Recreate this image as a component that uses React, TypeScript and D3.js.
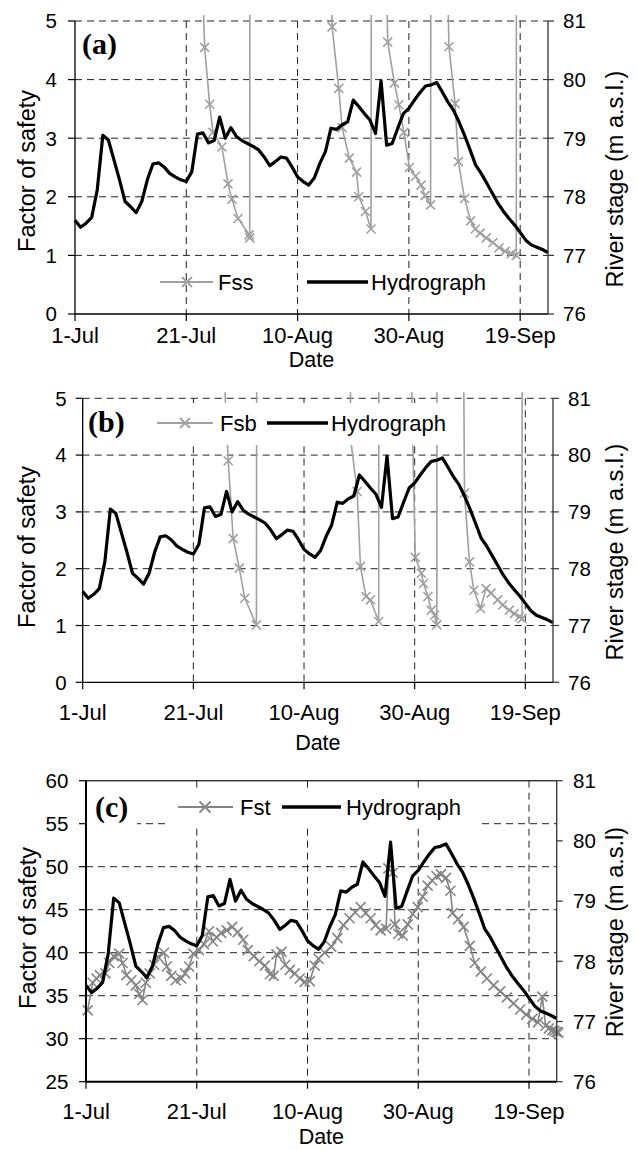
import React from 'react';
import * as d3 from 'd3';

const DAY = 86400000;
const START = Date.UTC(2009, 6, 1);
const LAST_DAY = 85;
const tickDays = [0, 20, 40, 60, 80];

// daily river stage from 1-Jul (m a.s.l.)
const hydroStage = [
  77.6, 77.48, 77.55, 77.65, 78.12, 79.05, 78.97, 78.63, 78.29, 77.92,
  77.83, 77.73, 77.92, 78.29, 78.56, 78.58, 78.51, 78.4, 78.34, 78.29,
  78.26, 78.43, 79.07, 79.09, 78.92, 78.96, 79.36, 79.0, 79.18, 79.03,
  78.96, 78.91, 78.86, 78.8, 78.68, 78.53, 78.6, 78.68, 78.66, 78.51,
  78.34, 78.26, 78.2, 78.32, 78.57, 78.77, 79.17, 79.15, 79.23, 79.28,
  79.65, 79.54, 79.42, 79.31, 79.08, 79.98, 78.88, 78.91, 79.17, 79.42,
  79.51, 79.65, 79.78, 79.89, 79.91, 79.95, 79.79, 79.62, 79.48, 79.28,
  79.05, 78.8, 78.54, 78.4, 78.23, 78.06, 77.89, 77.75, 77.63, 77.52,
  77.39, 77.26, 77.18, 77.14, 77.1, 77.05,
];

// Fss (values above 5 run off the top of the chart)
const fssDay = [
  22.8, 23.3, 24.2, 24.8, 26.4, 27.5, 28.2, 29.3, 31.3, 31.4, 31.45,
  45.9, 46.2, 47.4, 48.0, 49.3, 50.6, 51.0, 52.2, 53.2, 53.3,
  55.9, 56.2, 57.4, 58.2, 59.1, 60.1, 61.2, 62.2, 62.9, 63.9, 64.0,
  66.9, 67.2, 68.3, 68.9, 70.0, 71.1, 71.9, 72.8, 73.9, 75.1, 76.2, 77.3, 78.4, 79.3, 79.35,
];
const fssVal = [
  6, 4.55, 3.58, 3.1, 2.85, 2.22, 1.96, 1.63, 1.35, 1.3, 12,
  6, 4.9, 3.85, 3.18, 2.66, 2.42, 2.0, 1.75, 1.45, 12,
  6, 4.64, 3.94, 3.57, 3.1, 2.5, 2.35, 2.2, 2.02, 1.86, 12,
  6, 4.56, 3.59, 2.6, 1.97, 1.59, 1.45, 1.38, 1.3, 1.22, 1.13, 1.07, 1.03, 1.0, 12,
];

// Fsb
const fsbDay = [
  25.3, 26.3, 27.2, 28.3, 29.3, 31.4, 31.5,
  48.35, 48.4, 49.6, 50.2, 51.2, 52.0, 53.5, 53.55,
  59.3, 60.1, 61.2, 61.6, 62.4, 63.0, 63.6, 64.0, 64.05,
  68.45, 69.0, 69.9, 70.7, 71.9, 72.9, 73.8, 75.0, 75.9, 77.1, 78.0, 78.9, 79.4, 79.45,
];
const fsbVal = [
  6, 3.9, 2.53, 2.01, 1.48, 1.01, 12,
  12, 4.3, 3.36, 2.04, 1.51, 1.45, 1.07, 12,
  6, 2.2, 1.92, 1.74, 1.51, 1.27, 1.18, 1.01, 12,
  12, 3.33, 2.12, 1.62, 1.3, 1.65, 1.57, 1.45, 1.36, 1.27, 1.21, 1.15, 1.12, 12,
];

// Fst
const fstDay = [
  0.3, 1.2, 1.9, 2.5, 3.5, 4.2, 5.0, 6.0, 6.6, 7.3, 8.2, 9.0, 9.6, 10.2, 10.8,
  11.5, 12.3, 13.0, 14.1, 14.6, 15.4, 16.2, 17.2, 17.9, 18.6, 19.4, 20.4, 21.3,
  22.2, 22.9, 23.6, 24.4, 25.4, 26.4, 27.4, 28.4, 29.2, 30.3, 31.3, 32.3, 33.2,
  33.9, 34.4, 35.3, 36.0, 36.8, 37.7, 38.6, 39.5, 40.4, 41.3, 42.0, 43.1, 44.3,
  45.4, 46.5, 47.6, 48.6, 49.6, 50.5, 51.4, 52.3, 53.2, 54.2, 54.6, 55.4, 55.8,
  56.4, 57.2, 58.1, 59.0, 59.9, 60.8, 61.7, 62.5, 63.3, 64.1, 65.0, 65.8, 66.2,
  67.2, 68.2, 69.3, 70.2, 71.3, 72.4, 73.6, 74.8, 76.0, 77.2, 78.4, 79.5, 80.6,
  81.6, 82.4, 83.0, 83.6, 84.2, 84.6, 85.0, 85.3,
];
const fstVal = [
  33.3, 36.5, 37.0, 37.4, 37.6, 38.8, 39.6, 39.9, 38.8, 37.4, 36.8, 36.2, 35.2, 34.5, 36.5,
  37.6, 38.6, 39.5, 40.0, 38.4, 37.3, 36.8, 37.0, 37.6, 38.4, 39.9, 40.3, 41.0,
  42.5, 41.3, 41.8, 42.3, 42.6, 43.0, 42.4, 41.5, 40.3, 39.6, 39.0, 38.5, 37.5,
  37.3, 39.8, 40.1, 38.6, 38.0, 37.6, 37.0, 36.6, 36.7, 38.5, 39.3, 40.0, 40.7,
  41.7, 43.2, 44.0, 44.7, 45.3, 44.6, 44.0, 43.2, 42.6, 42.8, 49.8, 49.3, 43.3,
  42.2, 42.0, 43.3, 44.5, 45.3, 46.5, 47.8, 48.4, 48.9, 49.1, 48.7, 47.2, 44.6,
  43.9, 43.0, 40.8, 38.8, 37.8, 37.0, 36.2, 35.5, 34.8, 34.1, 33.4, 32.8, 32.3,
  31.9, 34.9, 31.5, 31.2, 31.0, 30.9, 30.8, 30.7,
];

const ticksAB = [0, 1, 2, 3, 4, 5];
const ticksC = [25, 30, 35, 40, 45, 50, 55, 60];
const stageTicks = [76, 77, 78, 79, 80, 81];

const SANS = 'Liberation Sans, Arial, sans-serif';
const SERIF = 'Liberation Serif, Times New Roman, serif';
const fmt = d3.utcFormat('%-d-%b');
const toDate = (d: number) => new Date(START + d * DAY);

const xMark = (s: number) => `M${-s},${-s}L${s},${s}M${-s},${s}L${s},${-s}`;

function Panel(p: any) {
  const { left, right, top, bottom } = p.box;
  const x = d3.scaleUtc().domain([toDate(0), toDate(LAST_DAY)]).range([left, right]);
  const y = d3.scaleLinear().domain(p.yDomain).range([bottom, top]);
  const y2 = d3.scaleLinear().domain([76, 81]).range([bottom, top]);
  const hydro = d3.line<number>().x((_, i) => x(toDate(i))).y((v) => y2(v))(hydroStage) || '';
  const fsPath = d3.line<number>().x((_, i) => x(toDate(p.days[i]))).y((v) => y(v))(p.vals) || '';
  const clipId = 'clip-' + p.id;
  const yMax = p.yDomain[1];
  const lg = p.legend;
  const dash = '7,5';

  return (
    <g>
      <defs>
        <clipPath id={clipId}>
          <rect x={left} y={top - 6} width={right - left} height={bottom - top + 6} />
        </clipPath>
      </defs>
      {/* grid */}
      {p.yTicks.slice(1).map((t: number) => (
        <line key={'h' + t} x1={left} x2={right} y1={y(t)} y2={y(t)} stroke="#222" strokeWidth={1}
          strokeDasharray={t === yMax && p.topSolid ? undefined : dash} />
      ))}
      {tickDays.slice(1).map((d) => (
        <line key={'v' + d} x1={x(toDate(d))} x2={x(toDate(d))} y1={top} y2={bottom} stroke="#222"
          strokeWidth={1} strokeDasharray={dash} />
      ))}
      {/* safety factor series */}
      <g clipPath={p.clip ? `url(#${clipId})` : undefined}>
        <path d={fsPath} fill="none" stroke={p.color} strokeWidth={1.6} />
        {p.vals.map((v: number, i: number) =>
          v > yMax ? null : (
            <path key={i} d={xMark(p.ms)} transform={`translate(${x(toDate(p.days[i]))},${y(v)})`}
              fill="none" stroke={p.color} strokeWidth={1.6} />
          )
        )}
      </g>
      <path d={hydro} fill="none" stroke="#000" strokeWidth={3.2} strokeLinejoin="round" />
      {/* boxes */}
      {p.tagBox && <rect x={p.tagBox[0]} y={p.tagBox[1]} width={p.tagBox[2] - p.tagBox[0]} height={p.tagBox[3] - p.tagBox[1]} fill="#fff" />}
      {lg.box && <rect x={lg.box[0]} y={lg.box[1]} width={lg.box[2] - lg.box[0]} height={lg.box[3] - lg.box[1]} fill="#fff" />}
      <text x={p.tag[0]} y={p.tag[1]} fontFamily={SERIF} fontWeight="bold" fontSize={30}>{p.tagText}</text>
      {/* legend */}
      <line x1={lg.s[0]} x2={lg.s[1]} y1={lg.y} y2={lg.y} stroke={p.color} strokeWidth={1.8} />
      <path d={xMark(p.ms + 0.5)} transform={`translate(${lg.m},${lg.y})`} stroke={p.color} strokeWidth={1.8} fill="none" />
      <text x={lg.st} y={lg.y} dy="0.36em" fontFamily={SANS} fontSize={22}>{p.name}</text>
      <line x1={lg.h[0]} x2={lg.h[1]} y1={lg.y} y2={lg.y} stroke="#000" strokeWidth={3.5} />
      <text x={lg.ht} y={lg.y} dy="0.36em" fontFamily={SANS} fontSize={22}>Hydrograph</text>
      {/* axes */}
      {p.topSolid && <line x1={left} x2={right} y1={top} y2={top} stroke="#333" strokeWidth={1.2} />}
      <line x1={left} x2={left} y1={top} y2={bottom} stroke="#000" strokeWidth={p.axisW} />
      <line x1={left} x2={right} y1={bottom} y2={bottom} stroke="#000" strokeWidth={p.axisW} />
      <line x1={right} x2={right} y1={top} y2={bottom} stroke="#333" strokeWidth={1.3} />
      {p.yTicks.map((t: number) => (
        <g key={'yl' + t}>
          <line x1={left - 7} x2={left} y1={y(t)} y2={y(t)} stroke="#000" strokeWidth={1.2} />
          <text x={p.yLabelRight} y={y(t)} dy="0.36em" textAnchor="end" fontFamily={SANS} fontSize={20.5}>{t}</text>
        </g>
      ))}
      {stageTicks.map((t) => (
        <g key={'yr' + t}>
          <line x1={right} x2={right + 6} y1={y2(t)} y2={y2(t)} stroke="#333" strokeWidth={1.2} />
          <text x={p.y2LabelLeft} y={y2(t)} dy="0.36em" fontFamily={SANS} fontSize={20.5}>{t}</text>
        </g>
      ))}
      {tickDays.map((d) => (
        <g key={'xl' + d}>
          <line x1={x(toDate(d))} x2={x(toDate(d))} y1={bottom} y2={bottom + 7} stroke="#000" strokeWidth={1.2} />
          <text x={x(toDate(d))} y={p.xLabelBase} textAnchor="middle" fontFamily={SANS} fontSize={22}>{fmt(toDate(d))}</text>
        </g>
      ))}
      <text x={(left + right) / 2} y={p.dateBase} textAnchor="middle" fontFamily={SANS} fontSize={21.5}>Date</text>
      <text transform={`translate(${p.lt[0]},${p.lt[1]}) rotate(-90)`} dy="0.36em" textAnchor="middle"
        fontFamily={SANS} fontSize={23.5}>Factor of safety</text>
      <text transform={`translate(${p.rt[0]},${p.rt[1]}) rotate(-90)`} dy="0.36em" textAnchor="middle"
        fontFamily={SANS} fontSize={23.5}>{p.rtText}</text>
    </g>
  );
}

export default function App() {
  return (
    <svg width={638} height={1150} style={{ position: 'absolute', left: 0, top: 0, background: '#fff' }}>
      <rect width={638} height={1150} fill="#fff" />
      <Panel id="a" box={{ left: 75, right: 548, top: 21, bottom: 314 }} yDomain={[0, 5]} yTicks={ticksAB}
        days={fssDay} vals={fssVal} color="#a0a0a0" ms={4.5} clip name="Fss" axisW={1.3}
        yLabelRight={57} y2LabelLeft={563} xLabelBase={343} dateBase={367}
        tag={[82, 54]} tagText="(a)" lt={[27, 171]} rt={[615, 179]} rtText="River stage (m a.s.l.)"
        legend={{ y: 282, s: [160, 213], m: 187, st: 218, h: [307, 368], ht: 371 }} />
      <Panel id="b" box={{ left: 82.7, right: 553, top: 398.3, bottom: 682.3 }} yDomain={[0, 5]} yTicks={ticksAB}
        days={fsbDay} vals={fsbVal} color="#a0a0a0" ms={4.5} clip name="Fsb" axisW={1.3}
        yLabelRight={66.7} y2LabelLeft={568} xLabelBase={720} dateBase={750}
        tag={[88, 432]} tagText="(b)" lt={[27, 547]} rt={[615, 552]} rtText="River stage (m a.s.l.)"
        legend={{ box: [150, 403, 452, 445], y: 423, s: [157, 213], m: 185, st: 220, h: [267, 328], ht: 331 }} />
      <Panel id="c" box={{ left: 86, right: 556.7, top: 780.7, bottom: 1081.7 }} yDomain={[25, 60]} yTicks={ticksC}
        days={fstDay} vals={fstVal} color="#858585" ms={5} clip={false} name="Fst" axisW={2} topSolid
        yLabelRight={68.3} y2LabelLeft={573} xLabelBase={1119} dateBase={1144}
        tag={[95, 817]} tagText="(c)" tagBox={[87, 785, 137, 828]} lt={[28, 928]} rt={[615, 932]}
        rtText="River stage (m a.s.l)"
        legend={{ box: [170, 792, 478, 828], y: 807, s: [178, 233], m: 205, st: 240, h: [282, 341], ht: 346 }} />
    </svg>
  );
}
